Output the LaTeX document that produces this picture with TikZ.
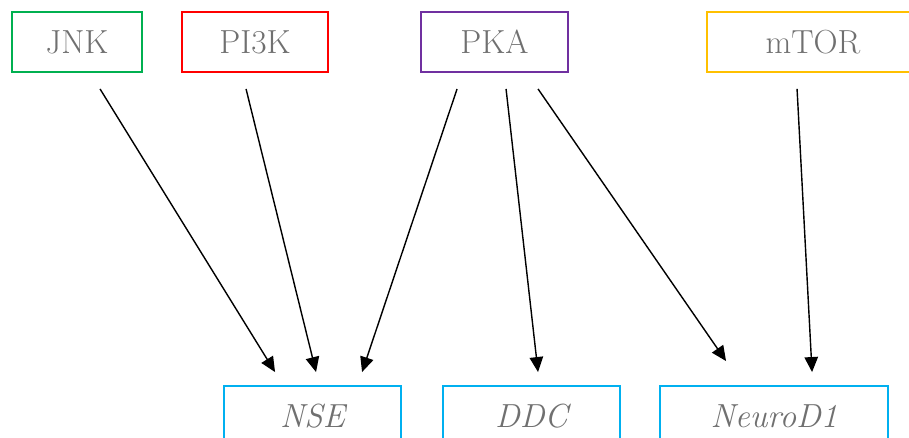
\documentclass[tikz,border=0pt]{standalone}
\usepackage{tikz}
\usetikzlibrary{arrows.meta,calc}
\usepackage{xcolor}
\definecolor{jnkgreen}{HTML}{00B050}
\definecolor{pikred}{HTML}{FF0000}
\definecolor{pkapurple}{HTML}{7030A0}
\definecolor{mtorgold}{HTML}{FFC000}
\definecolor{targetblue}{HTML}{00B0F0}
\definecolor{labelgray}{HTML}{707070}

\tikzset{
  genebox/.style={draw, line width=1.1pt, minimum height=1.2cm, inner sep=0pt,
    text=labelgray, font=\fontsize{19pt}{22pt}\selectfont},
  targetbox/.style={genebox, draw=targetblue, font=\fontsize{19pt}{22pt}\selectfont\itshape},
  act/.style={-{Triangle[length=0.3cm,width=0.27cm]}, line width=0.8pt, black}
}

\begin{document}
\begin{tikzpicture}[x=0.02cm, y=-0.02cm]
    \useasboundingbox (0,0) rectangle (909,437);
    \clip (0,0) rectangle (909,437);
    % upstream kinases
    \node[genebox, draw=jnkgreen, minimum width=2.6cm] (jnk) at (77,42) {JNK};
    \node[genebox, draw=pikred, minimum width=2.92cm] (pi3k) at (255,42) {PI3K};
    \node[genebox, draw=pkapurple, minimum width=2.94cm] (pka) at (494.5,42) {PKA};
    \node[genebox, draw=mtorgold, minimum width=4.24cm] (mtor) at (813,42) {mTOR};
    % targets
    \node[targetbox, minimum width=3.54cm] (nse) at (312.5,416) {NSE};
    \node[targetbox, minimum width=3.54cm] (ddc) at (531.5,416) {DDC};
    \node[targetbox, minimum width=4.56cm] (neurod) at (774,416) {NeuroD1};
    % regulation arrows
    \draw[act] ($(jnk.south west)+(89,16)$) -- ($(nse.north west)+(52,-13)$);
    \draw[act] ($(pi3k.south west)+(65,16)$) -- ($(nse.north west)+(93,-13)$);
    \draw[act] ($(pka.south west)+(37,16)$) -- ($(nse.north west)+(139,-13)$);
    \draw[act] ($(pka.south west)+(86,16)$) -- ($(ddc.north west)+(96,-13)$);
    \draw[act] ($(pka.south west)+(118,16)$) -- ($(neurod.north west)+(67,-24)$);
    \draw[act] ($(mtor.south west)+(91,16)$) -- ($(neurod.north west)+(153,-13)$);
\end{tikzpicture}
\end{document}
